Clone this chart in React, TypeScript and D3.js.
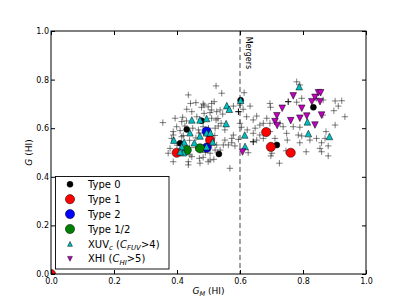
import React, { useEffect, useRef } from 'react';
import * as d3 from 'd3';

type Pt = [number, number];

// axis ticks
const xTicks = [0, 0.2, 0.4, 0.6, 0.8, 1.0];
const yTicks = [0, 0.2, 0.4, 0.6, 0.8, 1.0];
const mergerCut = 0.6;

// all galaxies (grey crosses)
const others: Pt[] = [
  [0.436, 0.737], [0.443, 0.702], [0.460, 0.705], [0.431, 0.678], [0.447, 0.668], [0.478, 0.686],
  [0.355, 0.623], [0.394, 0.641], [0.418, 0.645], [0.415, 0.627], [0.463, 0.647], [0.486, 0.661],
  [0.399, 0.606], [0.425, 0.609], [0.388, 0.572], [0.415, 0.565], [0.388, 0.462], [0.436, 0.462],
  [0.447, 0.483], [0.473, 0.456], [0.471, 0.476], [0.483, 0.480], [0.524, 0.774], [0.542, 0.744],
  [0.483, 0.700], [0.499, 0.688], [0.505, 0.664], [0.526, 0.668], [0.510, 0.641], [0.410, 0.590],
  [0.388, 0.586], [0.531, 0.609], [0.552, 0.593], [0.579, 0.572], [0.574, 0.558], [0.552, 0.551],
  [0.563, 0.531], [0.595, 0.554], [0.648, 0.600], [0.653, 0.551], [0.436, 0.449], [0.505, 0.469],
  [0.568, 0.435], [0.378, 0.517], [0.372, 0.497], [0.383, 0.558], [0.441, 0.490], [0.521, 0.510],
  [0.526, 0.531], [0.537, 0.510], [0.468, 0.593], [0.483, 0.606], [0.653, 0.650], [0.499, 0.462],
  [0.517, 0.472], [0.505, 0.497], [0.626, 0.499],
  [0.518, 0.709], [0.486, 0.695], [0.510, 0.675], [0.537, 0.675], [0.545, 0.658], [0.579, 0.691],
  [0.610, 0.678], [0.632, 0.691], [0.613, 0.746], [0.621, 0.647], [0.642, 0.634],
  [0.524, 0.634], [0.521, 0.600], [0.574, 0.540], [0.547, 0.531], [0.584, 0.527], [0.600, 0.620],
  [0.605, 0.604], [0.623, 0.593], [0.642, 0.579], [0.663, 0.572], [0.674, 0.558], [0.695, 0.702],
  [0.697, 0.686], [0.780, 0.707], [0.796, 0.723], [0.780, 0.791], [0.790, 0.778],
  [0.843, 0.723], [0.864, 0.716], [0.902, 0.712], [0.923, 0.713], [0.912, 0.691], [0.898, 0.672],
  [0.933, 0.647], [0.863, 0.654], [0.902, 0.613], [0.873, 0.586], [0.796, 0.568], [0.843, 0.558],
  [0.870, 0.558], [0.859, 0.540], [0.880, 0.527], [0.790, 0.540], [0.810, 0.503], [0.880, 0.486],
  [0.750, 0.551], [0.746, 0.507], [0.725, 0.456], [0.701, 0.497], [0.711, 0.558], [0.727, 0.620],
  [0.737, 0.606], [0.769, 0.606], [0.790, 0.604], [0.748, 0.579], [0.695, 0.620], [0.674, 0.620],
  [0.685, 0.641], [0.859, 0.503], [0.822, 0.551], [0.854, 0.517], [0.663, 0.613], [0.695, 0.586],
  [0.785, 0.572], [0.600, 0.695], [0.510, 0.702], [0.698, 0.486],
  [0.45, 0.60], [0.46, 0.56], [0.44, 0.55], [0.47, 0.58], [0.50, 0.60], [0.52, 0.57], [0.53, 0.64],
  [0.54, 0.62], [0.46, 0.52], [0.49, 0.50], [0.51, 0.53], [0.44, 0.52], [0.42, 0.57], [0.40, 0.53],
  [0.43, 0.63]
];
// a few crosses drawn darker
const othersDark: Pt[] = [[0.642, 0.544], [0.595, 0.668], [0.753, 0.709]];

const type0: Pt[] = [
  [0.431, 0.595], [0.478, 0.631], [0.410, 0.538], [0.533, 0.494], [0.602, 0.715], [0.833, 0.686], [0.717, 0.531]
];
const type1: Pt[] = [
  [0.0, 0.0], [0.683, 0.584], [0.698, 0.523], [0.761, 0.499], [0.505, 0.551], [0.399, 0.499]
];
const type2: Pt[] = [[0.494, 0.586], [0.494, 0.520]];
const type12: Pt[] = [[0.431, 0.510], [0.473, 0.517]];
const xuv: Pt[] = [
  [0.788, 0.771], [0.814, 0.626], [0.817, 0.578], [0.884, 0.566], [0.602, 0.715], [0.558, 0.693],
  [0.566, 0.678], [0.556, 0.619], [0.615, 0.572], [0.616, 0.525], [0.494, 0.640], [0.494, 0.581],
  [0.513, 0.544], [0.494, 0.524], [0.447, 0.634], [0.473, 0.634], [0.423, 0.543], [0.441, 0.581],
  [0.390, 0.551], [0.415, 0.524], [0.455, 0.540], [0.473, 0.568], [0.506, 0.581], [0.420, 0.499],
  [0.410, 0.503]
];
const xhi: Pt[] = [
  [0.769, 0.733], [0.734, 0.682], [0.717, 0.651], [0.711, 0.627], [0.718, 0.611], [0.761, 0.631],
  [0.790, 0.641], [0.796, 0.682], [0.828, 0.709], [0.838, 0.727], [0.849, 0.746], [0.856, 0.746],
  [0.854, 0.709], [0.859, 0.654], [0.838, 0.613], [0.812, 0.650], [0.608, 0.502]
];

const font = 'DejaVu Sans, sans-serif';

function App() {
  const width = 407;
  const height = 305;
  const margin = { top: 31, right: 41, bottom: 31, left: 51 };

  const x = d3.scaleLinear().domain([0, 1]).range([margin.left, width - margin.right]);
  const y = d3.scaleLinear().domain([0, 1]).range([height - margin.bottom, margin.top]);

  const plusPath = (s: number) => `M${-s},0H${s}M0,${-s}V${s}`;
  const triUp = (h: number) => `M0,${-h}L${h},${h}L${-h},${h}Z`;
  const triDown = (h: number) => `M0,${h}L${h},${-h}L${-h},${-h}Z`;

  // series in drawing order, legend uses the coloured ones
  const series = [
    { name: 'Type 0', data: type0, kind: 'circle', r: 3, color: '#000000', legend: [{ t: 'Type 0' }] },
    { name: 'Type 1', data: type1, kind: 'circle', r: 4.6, color: '#ff0000', legend: [{ t: 'Type 1' }] },
    { name: 'Type 2', data: type2, kind: 'circle', r: 4.6, color: '#0000ff', legend: [{ t: 'Type 2' }] },
    { name: 'Type 1/2', data: type12, kind: 'circle', r: 4.6, color: '#008000', legend: [{ t: 'Type 1/2' }] },
    {
      name: 'XUV', data: xuv, kind: 'up', r: 3.3, color: '#00bfbf',
      legend: [{ t: 'XUV' }, { t: 'c', it: true, sub: true }, { t: ' (' }, { t: 'C', it: true },
        { t: 'FUV', it: true, sub: true }, { t: '>4)' }]
    },
    {
      name: 'XHI', data: xhi, kind: 'down', r: 3.3, color: '#bf00bf',
      legend: [{ t: 'XHI (' }, { t: 'C', it: true }, { t: 'HI', it: true, sub: true }, { t: '>5)' }]
    }
  ];

  function drawChart() {
    const svg = d3.create('svg')
      .attr('width', width)
      .attr('height', height)
      .attr('viewBox', [0, 0, width, height])
      .style('display', 'block')
      .style('background', '#fff')
      .attr('font-family', font);

    svg.append('clipPath').attr('id', 'plot-clip')
      .append('rect')
      .attr('x', x(0)).attr('y', y(1))
      .attr('width', x(1) - x(0)).attr('height', y(0) - y(1));

    const plot = svg.append('g').attr('clip-path', 'url(#plot-clip)');

    // merger boundary
    plot.append('line')
      .attr('x1', x(mergerCut)).attr('x2', x(mergerCut))
      .attr('y1', y(1)).attr('y2', y(0))
      .attr('stroke', '#8c8c8c')
      .attr('stroke-width', 1.6)
      .attr('stroke-dasharray', '5,3');

    plot.append('g')
      .attr('stroke', '#000').attr('stroke-opacity', 0.5).attr('stroke-width', 1).attr('fill', 'none')
      .selectAll('path').data(others).join('path')
      .attr('transform', d => `translate(${x(d[0])},${y(d[1])})`)
      .attr('d', plusPath(3.2));

    plot.append('g')
      .attr('stroke', '#000').attr('stroke-width', 1).attr('fill', 'none')
      .selectAll('path').data(othersDark).join('path')
      .attr('transform', d => `translate(${x(d[0])},${y(d[1])})`)
      .attr('d', plusPath(3.2));

    for (const s of series) {
      const g = plot.append('g').attr('fill', s.color).attr('stroke', '#000').attr('stroke-width', 0.5);
      if (s.kind === 'circle') {
        g.selectAll('circle').data(s.data).join('circle')
          .attr('cx', d => x(d[0])).attr('cy', d => y(d[1])).attr('r', s.r);
      } else {
        g.selectAll('path').data(s.data).join('path')
          .attr('transform', d => `translate(${x(d[0])},${y(d[1])})`)
          .attr('d', s.kind === 'up' ? triUp(s.r) : triDown(s.r));
      }
    }

    svg.append('text')
      .attr('transform', `translate(${x(mergerCut) + 6},${y(1) + 5.7}) rotate(90)`)
      .attr('font-size', 8)
      .text('Mergers');

    // axes, ticks point inwards
    const fmt = d3.format('.1f');
    const styleAxis = (g: any) => g
      .attr('font-family', font).attr('font-size', 8)
      .call((g: any) => g.select('.domain').remove())
      .call((g: any) => g.selectAll('.tick line').attr('stroke', '#000'))
      .call((g: any) => g.selectAll('.tick text').attr('fill', '#000'));

    svg.append('g')
      .attr('transform', `translate(0,${y(0)})`)
      .call(d3.axisBottom(x).tickValues(xTicks).tickFormat(fmt).tickSizeInner(-4).tickSizeOuter(0).tickPadding(4))
      .call(styleAxis);
    svg.append('g')
      .attr('transform', `translate(0,${y(1)})`)
      .call(d3.axisTop(x).tickValues(xTicks).tickFormat(() => '').tickSizeInner(-4).tickSizeOuter(0))
      .call(styleAxis);
    svg.append('g')
      .attr('transform', `translate(${x(0)},0)`)
      .call(d3.axisLeft(y).tickValues(yTicks).tickFormat(fmt).tickSizeInner(-4).tickSizeOuter(0).tickPadding(2))
      .call(styleAxis);
    svg.append('g')
      .attr('transform', `translate(${x(1)},0)`)
      .call(d3.axisRight(y).tickValues(yTicks).tickFormat(() => '').tickSizeInner(-4).tickSizeOuter(0))
      .call(styleAxis);

    svg.append('rect')
      .attr('x', x(0)).attr('y', y(1))
      .attr('width', x(1) - x(0)).attr('height', y(0) - y(1))
      .attr('fill', 'none').attr('stroke', '#000').attr('stroke-width', 1);

    // axis labels
    const xl = svg.append('text')
      .attr('x', (x(0) + x(1)) / 2).attr('y', 294)
      .attr('text-anchor', 'middle').attr('font-size', 9);
    xl.append('tspan').attr('font-style', 'italic').text('G');
    xl.append('tspan').attr('font-style', 'italic').attr('font-size', 6.5).attr('dy', 2).text('M');
    xl.append('tspan').attr('dy', -2).text(' (HI)');

    const yl = svg.append('text')
      .attr('transform', `translate(32,${(y(0) + y(1)) / 2}) rotate(-90)`)
      .attr('text-anchor', 'middle').attr('font-size', 9);
    yl.append('tspan').attr('font-style', 'italic').text('G');
    yl.append('tspan').text(' (HI)');

    // legend
    const legend = svg.append('g');
    legend.append('rect')
      .attr('x', 55.5).attr('y', 176.5).attr('width', 113.5).attr('height', 92.5)
      .attr('fill', '#fff').attr('stroke', '#000').attr('stroke-width', 0.9);

    series.forEach((s, i) => {
      const cy = 184.3 + i * 14.9;
      const row = legend.append('g').attr('transform', `translate(70,${cy})`);
      if (s.kind === 'circle') {
        row.append('circle').attr('r', s.r).attr('fill', s.color).attr('stroke', '#000').attr('stroke-width', 0.5);
      } else {
        row.append('path').attr('d', s.kind === 'up' ? triUp(2.4) : triDown(2.4))
          .attr('fill', s.color).attr('stroke', '#000').attr('stroke-width', 0.5);
      }
      const t = legend.append('text')
        .attr('x', 88).attr('y', cy + 3.6)
        .attr('font-size', 10);
      let shift = 0;
      for (const p of s.legend as { t: string, it?: boolean, sub?: boolean }[]) {
        const want = p.sub ? 2.6 : 0;
        const sp = t.append('tspan').attr('dy', want - shift).text(p.t);
        shift = want;
        if (p.it) sp.attr('font-style', 'italic');
        if (p.sub) sp.attr('font-size', 7);
      }
    });

    return svg.node();
  }

  const holder = useRef<HTMLDivElement>(null);
  useEffect(() => {
    if (holder.current) {
      holder.current.innerHTML = '';
      holder.current.appendChild(drawChart() as SVGSVGElement);
    }
  });

  return (
    <div ref={holder} style={{ position: 'absolute', left: 0, top: 0 }}></div>
  );
}

export default App;
